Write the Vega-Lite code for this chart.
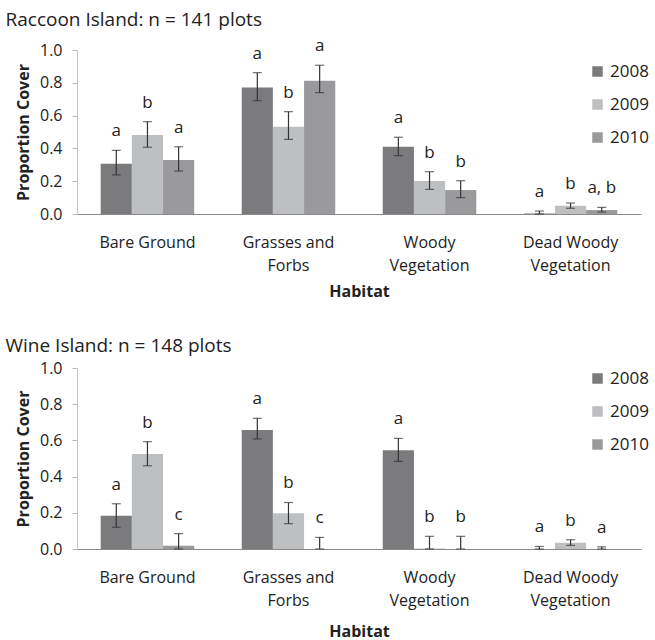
{
  "$schema": "https://vega.github.io/schema/vega-lite/v6.json",
  "padding": {"left": 5, "top": 11, "right": 0, "bottom": 4},
  "spacing": 38,
  "config": {
    "font": "Open Sans",
    "view": {"stroke": null},
    "axis": {"labelColor": "#222", "titleColor": "#222", "labelOverlap": false, "labelSeparation": 0, "labelBound": false},
    "axisQuantitative": {"labelOverlap": false, "tickCount": 6},
    "axisY": {"labelOverlap": false, "labelFlush": false, "grid": false, "format": ".1f", "labelFontSize": 16, "labelPadding": 10, "tickSize": 5, "tickColor": "#bbb", "domainColor": "#c4c4c4", "titleFontSize": 16, "titleFontWeight": "bold", "titlePadding": 8}
  },
  "datasets": {
    "d": [
      {"island": "Raccoon", "habitat": "Bare Ground", "year": "2008", "value": 0.307, "lo": 0.238, "hi": 0.388, "letter": "a"},
      {"island": "Raccoon", "habitat": "Bare Ground", "year": "2009", "value": 0.482, "lo": 0.407, "hi": 0.563, "letter": "b"},
      {"island": "Raccoon", "habitat": "Bare Ground", "year": "2010", "value": 0.329, "lo": 0.262, "hi": 0.41, "letter": "a"},
      {"island": "Raccoon", "habitat": "Grasses and Forbs", "year": "2008", "value": 0.772, "lo": 0.691, "hi": 0.862, "letter": "a"},
      {"island": "Raccoon", "habitat": "Grasses and Forbs", "year": "2009", "value": 0.532, "lo": 0.455, "hi": 0.624, "letter": "b"},
      {"island": "Raccoon", "habitat": "Grasses and Forbs", "year": "2010", "value": 0.813, "lo": 0.74, "hi": 0.907, "letter": "a"},
      {"island": "Raccoon", "habitat": "Woody Vegetation", "year": "2008", "value": 0.41, "lo": 0.356, "hi": 0.468, "letter": "a"},
      {"island": "Raccoon", "habitat": "Woody Vegetation", "year": "2009", "value": 0.201, "lo": 0.15, "hi": 0.258, "letter": "b"},
      {"island": "Raccoon", "habitat": "Woody Vegetation", "year": "2010", "value": 0.146, "lo": 0.1, "hi": 0.203, "letter": "b"},
      {"island": "Raccoon", "habitat": "Dead Woody Vegetation", "year": "2008", "value": 0.003, "lo": 0, "hi": 0.018, "letter": "a"},
      {"island": "Raccoon", "habitat": "Dead Woody Vegetation", "year": "2009", "value": 0.051, "lo": 0.035, "hi": 0.067, "letter": "b"},
      {"island": "Raccoon", "habitat": "Dead Woody Vegetation", "year": "2010", "value": 0.024, "lo": 0.012, "hi": 0.04, "letter": "a, b"},
      {"island": "Wine", "habitat": "Bare Ground", "year": "2008", "value": 0.184, "lo": 0.12, "hi": 0.25, "letter": "a"},
      {"island": "Wine", "habitat": "Bare Ground", "year": "2009", "value": 0.525, "lo": 0.46, "hi": 0.593, "letter": "b"},
      {"island": "Wine", "habitat": "Bare Ground", "year": "2010", "value": 0.018, "lo": 0, "hi": 0.085, "letter": "c"},
      {"island": "Wine", "habitat": "Grasses and Forbs", "year": "2008", "value": 0.657, "lo": 0.608, "hi": 0.722, "letter": "a"},
      {"island": "Wine", "habitat": "Grasses and Forbs", "year": "2009", "value": 0.197, "lo": 0.14, "hi": 0.257, "letter": "b"},
      {"island": "Wine", "habitat": "Grasses and Forbs", "year": "2010", "value": 0, "lo": 0, "hi": 0.064, "letter": "c"},
      {"island": "Wine", "habitat": "Woody Vegetation", "year": "2008", "value": 0.545, "lo": 0.484, "hi": 0.611, "letter": "a"},
      {"island": "Wine", "habitat": "Woody Vegetation", "year": "2009", "value": 0.003, "lo": 0, "hi": 0.07, "letter": "b"},
      {"island": "Wine", "habitat": "Woody Vegetation", "year": "2010", "value": 0, "lo": 0, "hi": 0.07, "letter": "b"},
      {"island": "Wine", "habitat": "Dead Woody Vegetation", "year": "2008", "value": 0, "lo": 0, "hi": 0.014, "letter": "a"},
      {"island": "Wine", "habitat": "Dead Woody Vegetation", "year": "2009", "value": 0.035, "lo": 0.02, "hi": 0.051, "letter": "b"},
      {"island": "Wine", "habitat": "Dead Woody Vegetation", "year": "2010", "value": 0, "lo": 0, "hi": 0.012, "letter": "a"}
    ]
  },
  "resolve": {"scale": {"color": "independent", "y": "independent"}},
  "vconcat": [
    {
      "title": {"text": "Raccoon Island: n = 141 plots", "anchor": "start", "frame": "bounds", "dx": -10, "fontSize": 19, "fontWeight": "normal", "color": "#222", "offset": 7},
      "width": 564,
      "height": 164,
      "data": {"name": "d"},
      "transform": [{"filter": "datum.island == 'Raccoon'"}],
      "encoding": {
        "x": {"field": "habitat", "type": "nominal", "sort": ["Bare Ground", "Grasses and Forbs", "Woody Vegetation", "Dead Woody Vegetation"], "title": "Habitat",
          "scale": {"paddingInner": 0.337, "paddingOuter": 0.168},
          "axis": {"labelAngle": 0, "labelFontSize": 16, "labelLineHeight": 23, "labelPadding": 20, "ticks": false, "domainColor": "#8a8a8a", "domainWidth": 1.2, "titleFontSize": 16, "titleFontWeight": "bold", "titlePadding": 10,
            "labelExpr": "datum.value == 'Grasses and Forbs' ? ['Grasses and', 'Forbs'] : datum.value == 'Woody Vegetation' ? ['Woody', 'Vegetation'] : datum.value == 'Dead Woody Vegetation' ? ['Dead Woody', 'Vegetation'] : datum.value"}},
        "xOffset": {"field": "year", "type": "nominal", "scale": {"paddingInner": 0, "paddingOuter": 0}}
      },
      "layer": [
        {
          "mark": {"type": "bar"},
          "encoding": {
            "y": {"field": "value", "type": "quantitative", "title": "Proportion Cover", "scale": {"domain": [0, 1], "nice": false}},
            "color": {"field": "year", "type": "nominal", "scale": {"domain": ["2008", "2009", "2010"], "range": ["#7b7b7e", "#bebfc1", "#9a9a9c"]},
              "legend": {"title": null, "orient": "none", "legendX": 512, "legendY": 13, "symbolType": "square", "symbolSize": 110, "symbolStrokeWidth": 0, "labelFontSize": 17, "labelColor": "#222", "rowPadding": 15, "labelOffset": 4}}
          }
        },
        {"mark": {"type": "rule", "color": "#333", "strokeWidth": 1.2}, "encoding": {"y": {"field": "lo", "type": "quantitative"}, "y2": {"field": "hi"}}},
        {"mark": {"type": "tick", "orient": "horizontal", "size": 9, "thickness": 1.2, "color": "#333"}, "encoding": {"y": {"field": "lo", "type": "quantitative"}}},
        {"mark": {"type": "tick", "orient": "horizontal", "size": 9, "thickness": 1.2, "color": "#333"}, "encoding": {"y": {"field": "hi", "type": "quantitative"}}},
        {"mark": {"type": "text", "dy": -19, "fontSize": 17, "color": "#222"}, "encoding": {"y": {"field": "hi", "type": "quantitative"}, "text": {"field": "letter"}}}
      ]
    },
    {
      "title": {"text": "Wine Island: n = 148 plots", "anchor": "start", "frame": "bounds", "dx": -10, "fontSize": 19, "fontWeight": "normal", "color": "#222", "offset": 4},
      "width": 564,
      "height": 181,
      "data": {"name": "d"},
      "transform": [{"filter": "datum.island == 'Wine'"}],
      "encoding": {
        "x": {"field": "habitat", "type": "nominal", "sort": ["Bare Ground", "Grasses and Forbs", "Woody Vegetation", "Dead Woody Vegetation"], "title": "Habitat",
          "scale": {"paddingInner": 0.337, "paddingOuter": 0.168},
          "axis": {"labelAngle": 0, "labelFontSize": 16, "labelLineHeight": 23, "labelPadding": 20, "ticks": false, "domainColor": "#8a8a8a", "domainWidth": 1.2, "titleFontSize": 16, "titleFontWeight": "bold", "titlePadding": 15,
            "labelExpr": "datum.value == 'Grasses and Forbs' ? ['Grasses and', 'Forbs'] : datum.value == 'Woody Vegetation' ? ['Woody', 'Vegetation'] : datum.value == 'Dead Woody Vegetation' ? ['Dead Woody', 'Vegetation'] : datum.value"}},
        "xOffset": {"field": "year", "type": "nominal", "scale": {"paddingInner": 0, "paddingOuter": 0}}
      },
      "layer": [
        {
          "mark": {"type": "bar"},
          "encoding": {
            "y": {"field": "value", "type": "quantitative", "title": "Proportion Cover", "scale": {"domain": [0, 1], "nice": false}},
            "color": {"field": "year", "type": "nominal", "scale": {"domain": ["2008", "2009", "2010"], "range": ["#7b7b7e", "#bebfc1", "#9a9a9c"]},
              "legend": {"title": null, "orient": "none", "legendX": 512, "legendY": 2, "symbolType": "square", "symbolSize": 110, "symbolStrokeWidth": 0, "labelFontSize": 17, "labelColor": "#222", "rowPadding": 15, "labelOffset": 4}}
          }
        },
        {"mark": {"type": "rule", "color": "#333", "strokeWidth": 1.2}, "encoding": {"y": {"field": "lo", "type": "quantitative"}, "y2": {"field": "hi"}}},
        {"mark": {"type": "tick", "orient": "horizontal", "size": 9, "thickness": 1.2, "color": "#333"}, "encoding": {"y": {"field": "lo", "type": "quantitative"}}},
        {"mark": {"type": "tick", "orient": "horizontal", "size": 9, "thickness": 1.2, "color": "#333"}, "encoding": {"y": {"field": "hi", "type": "quantitative"}}},
        {"mark": {"type": "text", "dy": -19, "fontSize": 17, "color": "#222"}, "encoding": {"y": {"field": "hi", "type": "quantitative"}, "text": {"field": "letter"}}}
      ]
    }
  ]
}
